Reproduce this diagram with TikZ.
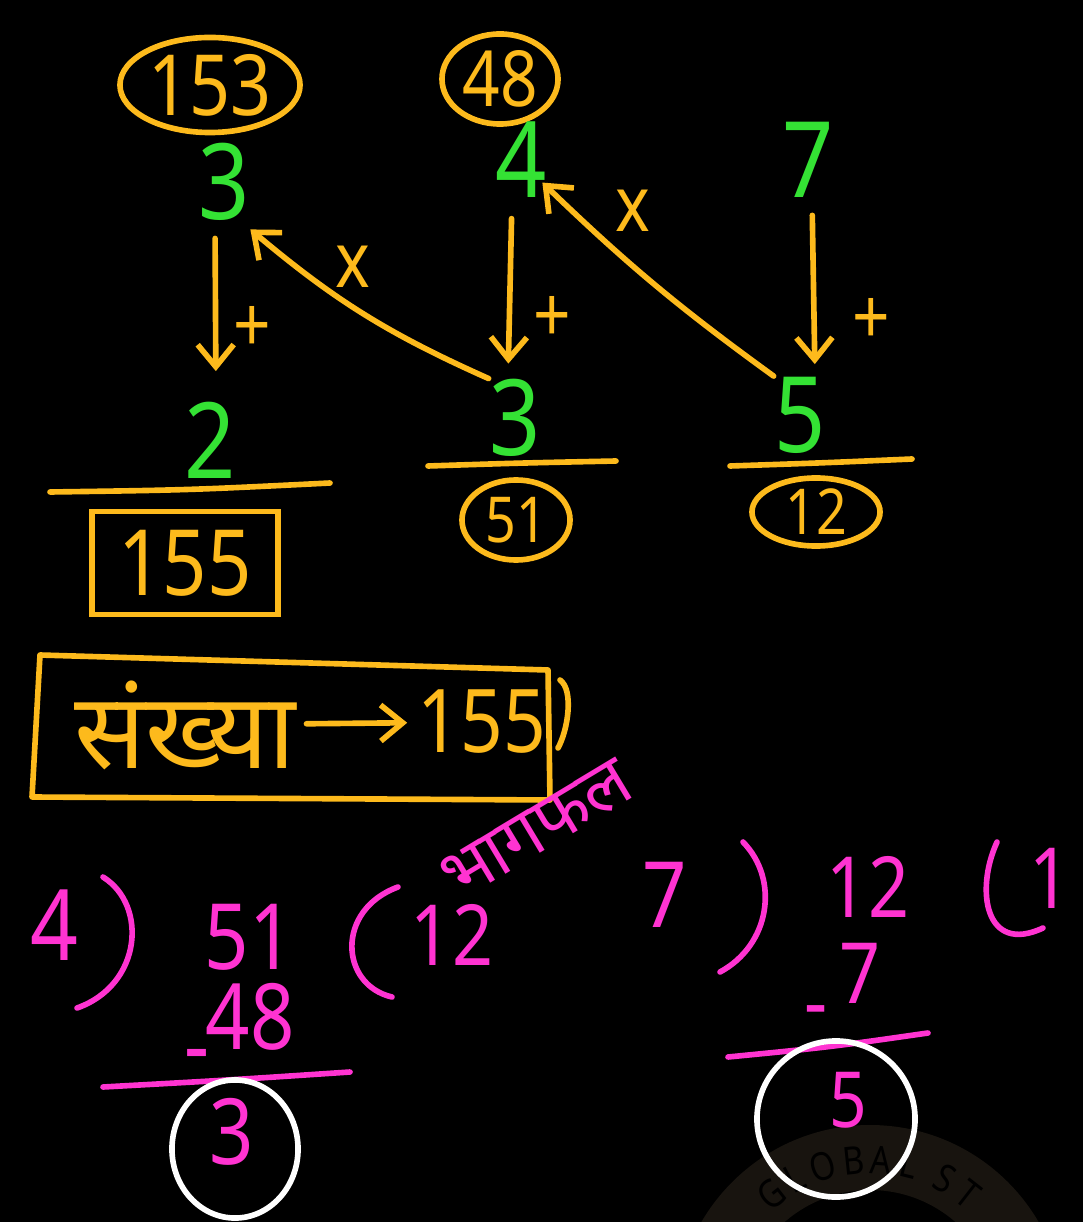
\documentclass[tikz,border=0pt]{standalone}
\usepackage{fontspec}
\setmainfont{Noto Sans}[FakeStretch=0.85]
\newfontfamily\hindifont[Script=Devanagari]{Noto Sans}
\usetikzlibrary{shapes.geometric,arrows.meta,positioning}
\definecolor{Chalk}{HTML}{FFFFFF}
\definecolor{Amber}{HTML}{FDBA1C}
\definecolor{Lime}{HTML}{34E234}
\definecolor{Orchid}{HTML}{FF33D1}
\definecolor{Smoke}{HTML}{18140F}
\newcommand\handsize[1]{\fontsize{#1}{#1}\selectfont}
\tikzset{
    % marker digits
    greendigit/.style={text=Lime, font=\handsize{30}, inner sep=0pt},
    orangedigit/.style={text=Amber, font=\handsize{24}, inner sep=0pt},
    pinkdigit/.style={text=Orchid, font=\handsize{26}, inner sep=0pt},
    ringbox/.style={
        ellipse,
        draw=Amber,
        line width=1.6pt,
        text=Amber,
        inner sep=0pt,
        font=\handsize{24}
    },
    whitering/.style={ellipse, draw=Chalk, line width=1.6pt, inner sep=0pt},
    framebox/.style={
        rectangle,
        draw=Amber,
        line width=1.6pt,
        text=Amber,
        inner sep=0pt,
        font=\handsize{26}
    },
    opmark/.style={text=Amber, font=\handsize{22}, inner sep=0pt},
    arrow/.style={
        -{Straight Barb[length=2.2mm,width=3.6mm]},
        line width=1.6pt,
        line cap=round,
        color=Amber
    },
    orangeline/.style={line width=1.6pt, line cap=round, line join=round, draw=Amber},
    pinkline/.style={line width=1.6pt, line cap=round, draw=Orchid}
}

\begin{document}
\begin{tikzpicture}[x=0.01cm, y=-0.01cm]
    \fill[black] (0,0) rectangle (1083,1222);
    \useasboundingbox (0,0) rectangle (1083,1222);

    % faint watermark
    \begin{scope}
        \clip (0,0) rectangle (1083,1222);
        \fill[Smoke, even odd rule] (870,1320) circle[radius=195] (870,1320) circle[radius=130];
        \foreach \ch/\a in {G/128, L/118, O/107, B/96, A/86, L/76, S/62, T/52}
            \node[text=black, font=\bfseries\handsize{11}, rotate=\a-90] at ([shift={(\a:1.6cm)}]870,1320) {\ch};
    \end{scope}

    % top row
    \node[ringbox, minimum width=1.8cm, minimum height=0.95cm] (ringa) at (210,85) {153};
    \node[ringbox, minimum width=1.16cm, minimum height=0.9cm, font=\handsize{22}] (ringb) at (500,79) {48};
    \node[greendigit] (ga) at (224,182) {3};
    \node[greendigit] (gb) at (521,160) {4};
    \node[greendigit] (gc) at (808,160) {7};
    \node[greendigit] (gd) at (210,440) {2};
    \node[greendigit] (ge) at (515,418) {3};
    \node[greendigit] (gf) at (800,415) {5};

    % adding steps
    \draw[arrow, shorten <=0.17cm, shorten >=0.3cm] ([xshift=-0.09cm]ga.south) -- ([xshift=0.06cm]gd.north)
        node[opmark, pos=.6, xshift=0.37cm] {+};
    \draw[arrow, shorten <=0.2cm, shorten >=0.15cm] ([xshift=-0.09cm]gb.south) -- ([xshift=-0.07cm]ge.north)
        node[opmark, pos=.67, xshift=0.43cm] {+};
    \draw[arrow, shorten <=0.17cm, shorten >=0.12cm] ([xshift=0.04cm]gc.south) -- ([xshift=0.15cm]gf.north)
        node[opmark, pos=.69, xshift=0.57cm] {+};

    % multiplying steps
    \draw[arrow] (ge.north west) to[bend left=8] node[opmark, pos=.55, yshift=0.4cm] {x} ([yshift=-0.08cm]ga.south east);
    \draw[arrow] (gf.north west) to[bend left=4] node[opmark, pos=.6, yshift=0.55cm] {x} ([shift={(-0.05cm,0.16cm)}]gb.south east);

    % result bars
    \draw[orangeline] (50,492) .. controls (190,490) .. (330,483);
    \draw[orangeline] (428,466) .. controls (520,463) .. (616,461);
    \draw[orangeline] (730,466) .. controls (820,463) .. (912,459);

    \node[framebox, minimum width=1.86cm, minimum height=1.03cm] (sum) at (185,563) {155};
    \node[ringbox, minimum width=1.08cm, minimum height=0.8cm, font=\handsize{18}] (rema) at (516,520) {51};
    \node[ringbox, minimum width=1.28cm, minimum height=0.68cm, font=\handsize{18}] (quota) at (816,512) {12};

    % answer box
    \draw[orangeline] (40,655) -- (548,670) -- (550,800) -- (32,797) -- cycle;
    \draw[orangeline] (560,680) .. controls (574,690) and (568,730) .. (558,748);
    \node[text=Amber, font=\hindifont\handsize{30}, inner sep=0pt] (word) at (185,725) {संख्या};
    \node[orangedigit, font=\handsize{25}] (answer) at (482,722) {155};
    \draw[arrow, shorten <=0.1cm, shorten >=0.1cm] (word) -- (answer);

    % first division
    \node[pinkdigit, font=\handsize{28}] (diva) at (54,925) {4};
    \draw[pinkline] (103,877) .. controls (148,905) and (142,985) .. (77,1008);
    \node[pinkdigit] (dvda) at (249,937) {51};
    \node[pinkdigit] (suba) at (250,1017) {48};
    \node[pinkdigit] (mina) at (197,1063) {-};
    \draw[pinkline] (103,1087) .. controls (230,1080) .. (350,1072);
    \node[pinkdigit] (remb) at (232,1132) {3};
    \node[whitering, minimum width=1.26cm, minimum height=1.38cm] (ringc) at (235,1149) {};
    \draw[pinkline] (398,887) .. controls (335,910) and (340,985) .. (392,997);
    \node[pinkdigit, font=\handsize{24}] (quotb) at (452,935) {12};
    \node[text=Orchid, font=\hindifont\handsize{20}, rotate=31, inner sep=0pt] (qlabel) at (537,830) {भागफल};

    % second division
    \node[pinkdigit] (divb) at (665,895) {7};
    \draw[pinkline] (743,842) .. controls (780,880) and (770,945) .. (720,972);
    \node[pinkdigit, font=\handsize{24}] (dvdb) at (868,887) {12};
    \node[pinkdigit, font=\handsize{24}] (subb) at (860,973) {7};
    \node[pinkdigit, font=\handsize{24}] (minb) at (816,1019) {-};
    \draw[pinkline] (728,1057) .. controls (830,1047) .. (928,1033);
    \node[pinkdigit, font=\handsize{22}] (remc) at (848,1100) {5};
    \node[whitering, minimum width=1.58cm, minimum height=1.56cm] (ringd) at (836,1119) {};
    \draw[pinkline] (997,842) .. controls (975,890) and (985,955) .. (1043,928);
    \node[pinkdigit, font=\handsize{24}] (quotc) at (1050,878) {1};
\end{tikzpicture}
\end{document}
